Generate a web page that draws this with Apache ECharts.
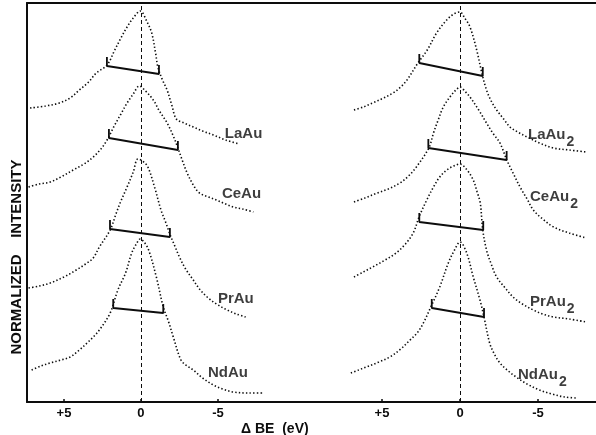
<!DOCTYPE html>
<html>
<head>
<meta charset="utf-8">
<script src="https://cdn.jsdelivr.net/npm/echarts@6/dist/echarts.min.js"></script>
<style>
  html, body { margin: 0; background: #fff; }
  #chart { width: 596px; height: 435px; }
</style>
</head>
<body>
<div id="chart"></div>
<script>
// spectra: [ΔBE (eV), intensity incl. stacking offset]
const laAu = [[7.2, 294], [6.2, 296], [5.3, 299], [4.6, 304], [4.0, 312], [3.4, 320], [2.9, 329], [2.2, 337], [1.7, 352], [1.3, 364], [0.9, 375], [0.5, 384], [0.05, 391], [-0.4, 380], [-0.7, 369], [-0.95, 349], [-1.1, 335], [-1.4, 322], [-1.7, 312], [-2.0, 297], [-2.3, 283], [-2.8, 279], [-3.4, 275], [-4.0, 271], [-4.7, 267], [-5.5, 262], [-6.4, 258]];
const ceAu = [[7.3, 215], [6.6, 218], [5.9, 220], [5.2, 225], [4.4, 232], [3.7, 238], [3.1, 245], [2.6, 253], [2.2, 262], [1.7, 277], [1.3, 288], [0.9, 299], [0.5, 308], [0.1, 316], [-0.3, 311], [-0.8, 302], [-1.2, 291], [-1.7, 279], [-2.1, 266], [-2.4, 254], [-2.7, 241], [-3.0, 229], [-3.4, 217], [-3.8, 209], [-4.4, 205], [-4.9, 202], [-5.5, 198], [-6.0, 195], [-6.6, 193], [-7.3, 190]];
const prAu = [[7.3, 114], [6.6, 116], [5.9, 119], [5.0, 125], [4.2, 132], [3.6, 138], [3.1, 144], [2.7, 155], [2.0, 172], [1.6, 189], [1.3, 201], [0.9, 215], [0.5, 230], [0.2, 243], [-0.1, 241], [-0.45, 235], [-0.9, 214], [-1.3, 192], [-1.6, 180], [-1.9, 167], [-2.2, 156], [-2.5, 145], [-2.9, 133], [-3.4, 122], [-3.8, 113], [-4.3, 105], [-4.9, 98], [-5.6, 92], [-6.2, 88], [-6.8, 85]];
const ndAu = [[7.1, 32], [6.5, 36], [5.9, 39], [5.2, 42], [4.6, 45], [4.0, 52], [3.5, 59], [3.1, 65], [2.7, 72], [2.0, 89], [1.5, 112], [1.0, 129], [0.6, 149], [0.3, 158], [0.05, 163], [-0.2, 160], [-0.5, 152], [-1.0, 125], [-1.45, 95], [-1.8, 80], [-2.1, 65], [-2.6, 42], [-3.0, 36], [-3.4, 32], [-4.0, 24], [-4.7, 17], [-5.3, 13], [-6.0, 10], [-7.0, 9], [-7.9, 9]];

const laAu2 = [[6.8, 292], [6.2, 295], [5.6, 299], [4.9, 304], [4.3, 309], [3.8, 315], [3.4, 322], [2.7, 339], [2.1, 352], [1.5, 369], [0.85, 382], [0.4, 388], [0.0, 390], [-0.3, 384], [-0.64, 375], [-1.07, 352], [-1.4, 329], [-1.7, 312], [-2.0, 301], [-2.35, 292], [-2.8, 283], [-3.2, 275], [-3.7, 270], [-4.3, 265], [-5.1, 259], [-6.0, 254], [-7.0, 252], [-8.1, 250]];
const ceAu2 = [[6.8, 200], [6.1, 204], [5.3, 209], [4.6, 213], [3.85, 219], [3.3, 226], [2.8, 235], [2.0, 254], [1.7, 269], [1.4, 282], [1.07, 295], [0.6, 306], [0.2, 313], [0.0, 315], [-0.3, 311], [-0.64, 305], [-1.2, 292], [-1.7, 279], [-2.1, 269], [-2.56, 259], [-3.0, 242], [-3.4, 229], [-3.85, 215], [-4.3, 203], [-4.7, 192], [-5.3, 183], [-6.0, 175], [-7.0, 169], [-8.1, 164]];
const prAu2 = [[6.8, 125], [6.2, 130], [5.6, 135], [4.8, 142], [4.1, 149], [3.5, 158], [3.0, 169], [2.6, 186], [2.1, 203], [1.7, 215], [1.3, 225], [0.85, 232], [0.4, 236], [0.0, 238], [-0.4, 233], [-0.85, 222], [-1.1, 210], [-1.3, 199], [-1.46, 172], [-1.7, 152], [-2.0, 138], [-2.35, 125], [-2.9, 114], [-3.4, 105], [-4.0, 98], [-4.7, 92], [-5.3, 88], [-6.0, 85], [-7.0, 83], [-8.1, 80]];
const ndAu2 = [[7.0, 29], [6.5, 32], [6.0, 35], [5.2, 40], [4.5, 45], [3.8, 53], [3.2, 62], [2.7, 70], [2.35, 79], [1.9, 94], [1.3, 115], [0.75, 139], [0.35, 152], [0.0, 160], [-0.43, 149], [-0.85, 125], [-1.28, 102], [-1.54, 85], [-1.9, 59], [-2.2, 48], [-2.56, 39], [-3.1, 31], [-3.6, 25], [-4.3, 18], [-5.1, 12], [-5.9, 8], [-6.7, 5], [-7.5, 4]];

// FWHM brackets: [x1, y1, x2, y2]
const bracketsAu = [[2.21, 336, -1.17, 328], [2.08, 264, -2.40, 252], [2.01, 173, -1.88, 165], [1.80, 94, -1.45, 89]];
const bracketsAu2 = [[2.61, 339, -1.46, 326], [2.03, 254, -2.99, 242], [2.61, 180, -1.49, 172], [1.81, 94, -1.54, 85]];

// curve labels: [x, y] where the text starts
const namesAu = ['LaAu', 'CeAu', 'PrAu', 'NdAu'];
const namePosAu = [[-5.45, 268], [-5.26, 208], [-5.0, 103], [-4.35, 29]];
const namesAu2 = ['LaAu', 'CeAu', 'PrAu', 'NdAu'];
const namePosAu2 = [[-4.36, 267], [-4.49, 205], [-4.49, 100], [-3.72, 27]];

const tickValues = [5, 0, -5];

const ink = '#0d0d0d';
const font = '"Liberation Sans", Arial, sans-serif';
const TICK_H = 9;

function spectrum(data, idx, withZero) {
  const s = {
    type: 'line',
    xAxisIndex: idx,
    yAxisIndex: idx,
    data,
    smooth: 0.35,
    showSymbol: false,
    silent: true,
    lineStyle: { color: ink, width: 1.6, type: [1.4, 2.2] },
  };
  if (withZero) {
    s.markLine = {
      silent: true,
      symbol: 'none',
      label: { show: false },
      lineStyle: { color: ink, width: 1, type: [4, 3] },
      data: [{ xAxis: 0 }],
    };
  }
  return s;
}

function bracket(b, idx) {
  const [x1, y1, x2, y2] = b;
  return {
    type: 'line',
    xAxisIndex: idx,
    yAxisIndex: idx,
    data: [[x1, y1 + TICK_H], [x1, y1], [x2, y2], [x2, y2 + TICK_H]],
    showSymbol: false,
    silent: true,
    lineStyle: { color: ink, width: 1.8 },
  };
}

function names(list, pos, idx, sub) {
  return {
    type: 'scatter',
    xAxisIndex: idx,
    yAxisIndex: idx,
    symbolSize: 0,
    silent: true,
    data: pos.map((p, i) => ({ value: p, name: list[i] })),
    label: {
      show: true,
      position: 'right',
      distance: 0,
      color: ink,
      fontFamily: font,
      fontSize: 15,
      formatter: p => (sub ? `{a|${p.name}}{s|2}` : `{a|${p.name}}`),
      rich: {
        a: { fontSize: 15, fontWeight: 'bold', fontFamily: font, color: ink },
        s: { fontSize: 14, fontWeight: 'bold', fontFamily: font, color: ink, padding: [14, 0, 0, 1] },
      },
    },
  };
}

function bottomAxis(idx, min, max) {
  return {
    type: 'value',
    gridIndex: idx,
    inverse: true,
    min,
    max,
    axisLine: { onZero: false, lineStyle: { color: ink, width: 2.2 } },
    axisTick: { inside: true, length: 3, customValues: tickValues, lineStyle: { color: ink, width: 1.5 } },
    axisLabel: {
      customValues: tickValues,
      color: ink,
      fontFamily: font,
      fontSize: 13,
      fontWeight: 'bold',
      margin: 5,
      formatter: v => (v > 0 ? '+' + v : String(v)),
    },
    splitLine: { show: false },
  };
}

function topAxis(idx, min, max) {
  return {
    type: 'value',
    gridIndex: idx,
    position: 'top',
    inverse: true,
    min,
    max,
    axisLine: { onZero: false, lineStyle: { color: ink, width: 2 } },
    axisTick: { show: false },
    axisLabel: { show: false },
    splitLine: { show: false },
  };
}

function sideAxis(idx, showLine) {
  return {
    type: 'value',
    gridIndex: idx,
    min: 0,
    max: 399,
    axisLine: { show: showLine, onZero: false, lineStyle: { color: ink, width: 2 } },
    axisTick: { show: false },
    axisLabel: { show: false },
    splitLine: { show: false },
  };
}

const chart = echarts.init(document.getElementById('chart'), null, { renderer: 'canvas' });
chart.setOption({
  backgroundColor: '#fff',
  animation: false,
  title: {
    text: 'Δ BE  (eV)',
    left: 236,
    top: 417,
    textStyle: { color: ink, fontFamily: font, fontSize: 14, fontWeight: 'bold' },
  },
  graphic: [{
    type: 'text',
    x: 17,
    y: 257,
    rotation: Math.PI / 2,
    style: {
      text: 'NORMALIZED    INTENSITY',
      fill: ink,
      font: 'bold 15px "Liberation Sans", Arial, sans-serif',
      textAlign: 'center',
      textVerticalAlign: 'middle',
    },
  }],
  grid: [
    { left: 27, top: 3, width: 263, height: 399 },
    { left: 290, top: 3, width: 306, height: 399 },
  ],
  xAxis: [
    bottomAxis(0, -9.68, 7.4),
    bottomAxis(1, -8.72, 10.9),
    topAxis(0, -9.68, 7.4),
    topAxis(1, -8.72, 10.9),
  ],
  yAxis: [sideAxis(0, true), sideAxis(1, false)],
  series: [
    spectrum(laAu, 0, true),
    spectrum(ceAu, 0),
    spectrum(prAu, 0),
    spectrum(ndAu, 0),
    spectrum(laAu2, 1, true),
    spectrum(ceAu2, 1),
    spectrum(prAu2, 1),
    spectrum(ndAu2, 1),
    ...bracketsAu.map(b => bracket(b, 0)),
    ...bracketsAu2.map(b => bracket(b, 1)),
    names(namesAu, namePosAu, 0, false),
    names(namesAu2, namePosAu2, 1, true),
  ],
});
</script>
</body>
</html>
